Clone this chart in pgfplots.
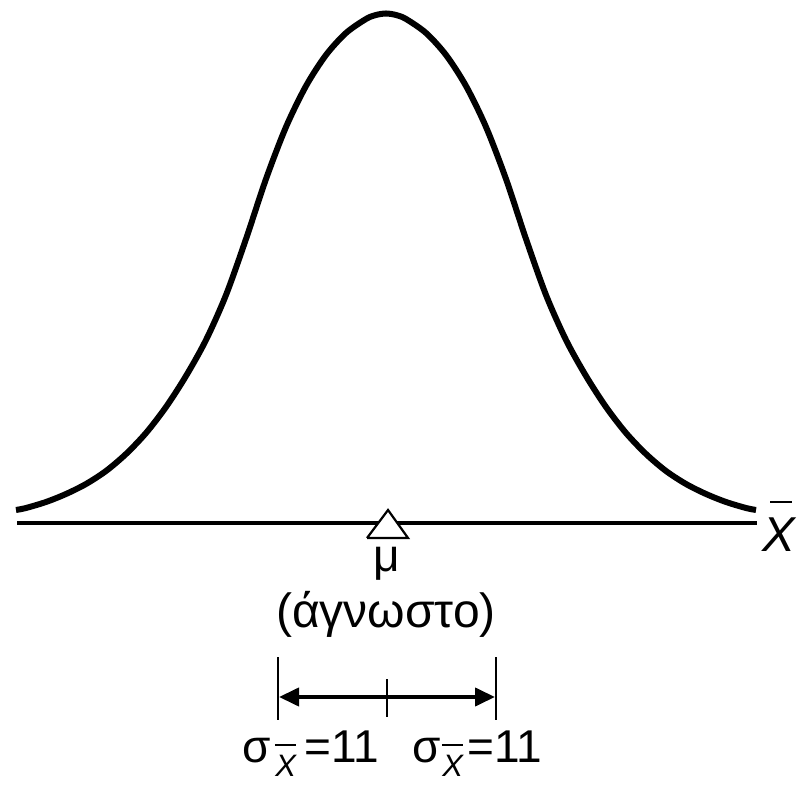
\documentclass[border=0pt]{standalone}
\usepackage{fontspec}
\setmainfont{Liberation Sans}
\usepackage{pgfplots}
\pgfplotsset{compat=1.18}
\usetikzlibrary{arrows.meta}

% X with a bar above it, in the current font size
\newcommand{\barX}[1]{\vbox{\offinterlineskip\halign{\hfil##\hfil\cr\rule{0.7em}{0.065em}\cr\noalign{\kern#1}\itshape X\cr}}}

\begin{document}
\begin{tikzpicture}
\begin{axis}[x=0.5pt, y=0.5pt, xmin=0, xmax=797, ymin=0, ymax=786,
	hide axis, clip=false, anchor=origin, at={(0pt,0pt)}]
	% baseline
	\addplot[black, line width=1.6pt] coordinates {(17,263) (757,263)};
	% sampling distribution curve
	\addplot[black, line width=3pt, smooth, tension=0.5] coordinates {
		(16,276) (26,278) (46,284) (66,292) (86,302) (106,315) (126,332)
		(146,353) (166,379) (186,410) (206,446) (226,491) (246,547) (266,607)
		(286,659) (306,700) (326,731) (346,753) (366,767) (376,771) (386,772.5)
		(396,771) (406,767) (426,753) (446,731) (466,700) (486,659) (506,607) (526,547)
		(546,491) (566,446) (586,410) (606,379) (626,353) (646,332) (666,315)
		(686,302) (706,292) (726,284) (746,278) (756,276)};
	% mean marker
	\addplot[black, fill=white, line width=1.1pt, line join=miter] coordinates {
		(367,248) (388,276) (408,248) (367,248)};
	\node[anchor=base, inner sep=0pt, font=\fontsize{23}{27}\selectfont] at (axis cs:387,214) {μ};
	\node[anchor=base, inner sep=0pt, font=\fontsize{24}{28}\selectfont] at (axis cs:386,158) {(άγνωστο)};
	% x-bar axis label
	\node[anchor=base west, inner sep=0pt, font=\fontsize{24.5}{28}\selectfont\itshape] at (axis cs:762,234) {X};
	\draw[line width=1pt] (axis cs:770,284) -- (axis cs:792,284);
	% bracket
	\draw[line width=1.2pt] (axis cs:278,66) -- (axis cs:278,129);
	\draw[line width=1.2pt] (axis cs:496,66) -- (axis cs:496,129);
	\draw[line width=1.2pt] (axis cs:387,69) -- (axis cs:387,107);
	\draw[line width=2pt, {Triangle[length=10pt,width=9pt]}-{Triangle[length=10pt,width=9pt]}]
		(axis cs:279,89) -- (axis cs:495,89);
	% labels
	\node[anchor=base west, inner sep=0pt, font=\fontsize{23}{27}\selectfont] at (axis cs:242,23)
		{σ\kern2pt\raisebox{-7pt}{\fontsize{15.5}{16}\selectfont\barX{5pt}}\kern4pt=11};
	\node[anchor=base west, inner sep=0pt, font=\fontsize{23}{27}\selectfont] at (axis cs:412,23)
		{σ\kern0.5pt\raisebox{-7pt}{\fontsize{15.5}{16}\selectfont\barX{5pt}}\kern2pt=11};
\end{axis}
\pgfresetboundingbox
\path[use as bounding box] (0pt,0pt) rectangle (398.5pt,393pt);
\end{tikzpicture}
\end{document}
